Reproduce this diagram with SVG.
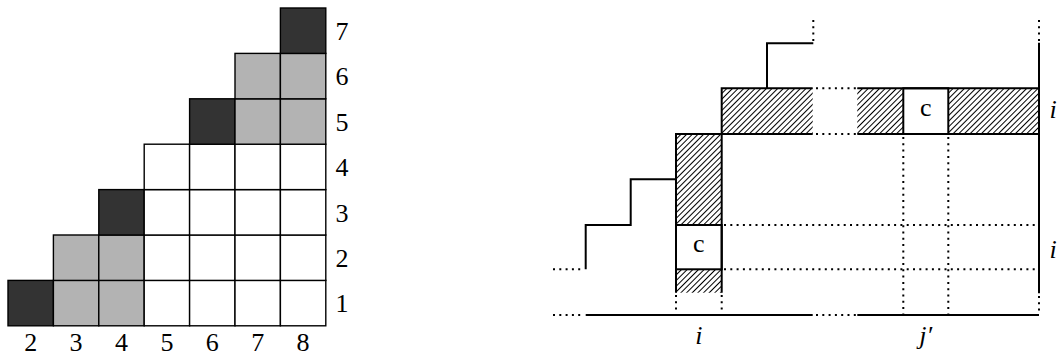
<svg xmlns="http://www.w3.org/2000/svg" width="1061" height="356" viewBox="0 0 1061 356">
<defs>
<pattern id="hatch" patternUnits="userSpaceOnUse" width="4" height="4" patternTransform="rotate(45)">
<rect width="4" height="4" fill="#fff"/>
<line x1="0.5" y1="0" x2="0.5" y2="4" stroke="#000" stroke-width="1"/>
</pattern>
</defs>
<style>
.cell{stroke:#000;stroke-width:1.4}
.w{fill:#fff}.g{fill:#b3b3b3}.d{fill:#333}
.lbl{font-family:"Liberation Serif",serif;font-size:26px;text-anchor:middle;fill:#000}
.it{font-style:italic}
.thick{stroke:#000;stroke-width:2;fill:none}
.dot{stroke:#000;stroke-width:2;fill:none;stroke-dasharray:2 4.3}
.hatch{fill:url(#hatch);stroke:none}
</style>
<g id="grid">
<rect class="cell d" x="8" y="280.4" width="45.4" height="45.4"/>
<rect class="cell g" x="53.4" y="280.4" width="45.4" height="45.4"/>
<rect class="cell g" x="53.4" y="235" width="45.4" height="45.4"/>
<rect class="cell g" x="98.8" y="280.4" width="45.4" height="45.4"/>
<rect class="cell g" x="98.8" y="235" width="45.4" height="45.4"/>
<rect class="cell d" x="98.8" y="189.6" width="45.4" height="45.4"/>
<rect class="cell w" x="144.2" y="280.4" width="45.4" height="45.4"/>
<rect class="cell w" x="144.2" y="235" width="45.4" height="45.4"/>
<rect class="cell w" x="144.2" y="189.6" width="45.4" height="45.4"/>
<rect class="cell w" x="144.2" y="144.2" width="45.4" height="45.4"/>
<rect class="cell w" x="189.6" y="280.4" width="45.4" height="45.4"/>
<rect class="cell w" x="189.6" y="235" width="45.4" height="45.4"/>
<rect class="cell w" x="189.6" y="189.6" width="45.4" height="45.4"/>
<rect class="cell w" x="189.6" y="144.2" width="45.4" height="45.4"/>
<rect class="cell d" x="189.6" y="98.8" width="45.4" height="45.4"/>
<rect class="cell w" x="235" y="280.4" width="45.4" height="45.4"/>
<rect class="cell w" x="235" y="235" width="45.4" height="45.4"/>
<rect class="cell w" x="235" y="189.6" width="45.4" height="45.4"/>
<rect class="cell w" x="235" y="144.2" width="45.4" height="45.4"/>
<rect class="cell g" x="235" y="98.8" width="45.4" height="45.4"/>
<rect class="cell g" x="235" y="53.4" width="45.4" height="45.4"/>
<rect class="cell w" x="280.4" y="280.4" width="45.4" height="45.4"/>
<rect class="cell w" x="280.4" y="235" width="45.4" height="45.4"/>
<rect class="cell w" x="280.4" y="189.6" width="45.4" height="45.4"/>
<rect class="cell w" x="280.4" y="144.2" width="45.4" height="45.4"/>
<rect class="cell g" x="280.4" y="98.8" width="45.4" height="45.4"/>
<rect class="cell g" x="280.4" y="53.4" width="45.4" height="45.4"/>
<rect class="cell d" x="280.4" y="8" width="45.4" height="45.4"/>
</g>
<g id="grid-labels">
<text class="lbl" x="30.7" y="351">2</text>
<text class="lbl" x="76.1" y="351">3</text>
<text class="lbl" x="121.5" y="351">4</text>
<text class="lbl" x="166.9" y="351">5</text>
<text class="lbl" x="212.3" y="351">6</text>
<text class="lbl" x="257.7" y="351">7</text>
<text class="lbl" x="303.1" y="351">8</text>
<text class="lbl" x="342" y="312.4">1</text>
<text class="lbl" x="342" y="267">2</text>
<text class="lbl" x="342" y="221.6">3</text>
<text class="lbl" x="342" y="176.2">4</text>
<text class="lbl" x="342" y="130.8">5</text>
<text class="lbl" x="342" y="85.4">6</text>
<text class="lbl" x="342" y="40">7</text>
</g>
<g id="hatched">
<rect class="hatch" x="676" y="134" width="45.7" height="158.7"/>
<rect class="hatch" x="721.7" y="88.3" width="91" height="45.7"/>
<rect class="hatch" x="857.3" y="88.3" width="181.7" height="45.7"/>
</g>
<g id="cell-c1">
<rect x="676" y="225" width="45.7" height="44.3" fill="#fff" stroke="#000" stroke-width="2"/>
<text class="lbl" x="698.8" y="252">c</text>
</g>
<g id="cell-c2">
<rect x="903.3" y="88.3" width="45" height="45.7" fill="#fff" stroke="#000" stroke-width="2"/>
<text class="lbl" x="925.8" y="116">c</text>
</g>
<g id="connectors">
<path class="thick" d="M585.7,269.3 V225 H630.7 V179.3 H676 V134"/>
<path class="thick" d="M676,292.7 V134 H721.7 M721.7,292.7 V88.3 H812.7 M721.7,134 H812.7"/>
<path class="thick" d="M767,88.3 V43.3 H813.3"/>
<path class="thick" d="M857.3,88.3 H1039 M857.3,134 H1039"/>
<path class="thick" d="M1039,42.7 V293.3"/>
<path class="thick" d="M585.7,315 H812.7 M857.3,315 H1039"/>
<path class="dot" d="M553,269.3 H584 M553,315 H584"/>
<path class="dot" d="M816,88.3 H856 M816,134 H856 M816,315 H856"/>
<path class="dot" d="M724,225 H1037 M724,269.3 H1037"/>
<path class="dot" d="M903.3,137 V315 M948.3,137 V315"/>
<path class="dot" d="M676,295 V315 M721.7,295 V315"/>
<path class="dot" d="M813.3,20 V41 M1039,20 V41 M1039,296 V313"/>
</g>
<g id="axis-labels">
<text class="lbl it" x="698.8" y="344">i</text>
<text class="lbl it" x="925.8" y="344">j′</text>
<text class="lbl it" x="1053" y="118">i</text>
<text class="lbl it" x="1053" y="258">i</text>
</g>
</svg>
